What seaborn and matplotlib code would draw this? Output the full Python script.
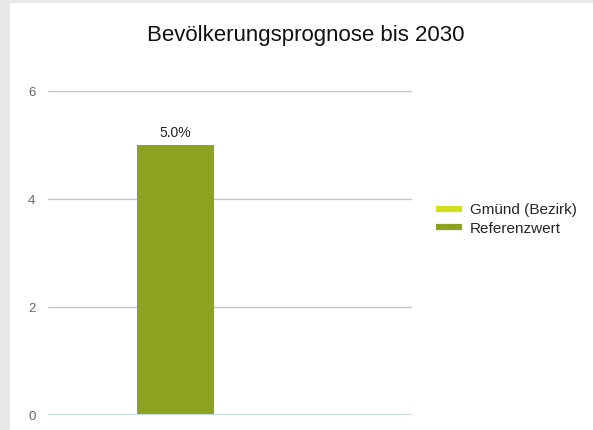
import matplotlib
matplotlib.use("Agg")
import matplotlib.pyplot as plt
import matplotlib.patches as mpatches
from matplotlib.lines import Line2D
import seaborn as sns
import pandas as pd
import numpy as np

title = "Bevölkerungsprognose bis 2030"
series = ["Gmünd (Bezirk)", "Referenzwert"]
values = [0.0, 5.0]
category = ["2030", "2030"]
colors = ["#d2df1f", "#8ba321"]
yticks = [0, 2, 4, 6]

sns.set_theme(style="white")
plt.rcParams["font.family"] = ["Liberation Sans", "DejaVu Sans"]

df = pd.DataFrame({"cat": category, "series": series, "value": values})

W, H = 593, 430
fig = plt.figure(figsize=(W / 100, H / 100), dpi=100, facecolor="white")
# gray frame on left and top
fig.patches.append(mpatches.Rectangle((0, 0), 10 / W, 1, transform=fig.transFigure,
                                      facecolor="#e8e8e8", edgecolor="none", zorder=0))
fig.patches.append(mpatches.Rectangle((0, 1 - 3 / H), 1, 3 / H, transform=fig.transFigure,
                                      facecolor="#e8e8e8", edgecolor="none", zorder=0))

ax = fig.add_axes([48 / W, 1 - 415 / H, (412 - 48) / W, (415 - 91) / H])
sns.barplot(data=df, x="cat", y="value", hue="series", hue_order=series,
            palette=colors, dodge=False, width=0.4, saturation=1, ax=ax, legend=False,
            linewidth=0)

ax.set_ylim(0, 6)
ax.set_xlim(-0.66, 1.23)
ax.set_yticks(yticks)
ax.set_yticklabels([str(t) for t in yticks], color="#666666", fontsize=9.5)
ax.set_xticks([])
ax.set_xlabel("")
ax.set_ylabel("")
for s in ax.spines.values():
    s.set_visible(False)
ax.tick_params(axis="y", length=0, pad=9)
for t in yticks[1:]:
    ax.axhline(t, color="#c4c4c4", lw=1, zorder=0)
ax.axhline(0, color="#c9dbe5", lw=1.5, zorder=3)
ax.set_facecolor("white")

# value label
ax.text(0, values[1] + 0.1, f"{values[1]:.1f}%", ha="center", va="bottom",
        fontsize=10, color="#222222")

fig.text(306 / W, 1 - 35 / H, title, ha="center", va="center", fontsize=16, color="#111111")

handles = [Line2D([0], [0], color=c, lw=4.5, solid_capstyle="butt") for c in colors]
fig.legend(handles, series, loc="upper left", bbox_to_anchor=(430 / W, 1 - 197 / H),
           frameon=False, fontsize=11, handlelength=1.7, handletextpad=0.5,
           labelspacing=0.3, borderaxespad=0)

fig.savefig("out.png", dpi=100, facecolor="white")
